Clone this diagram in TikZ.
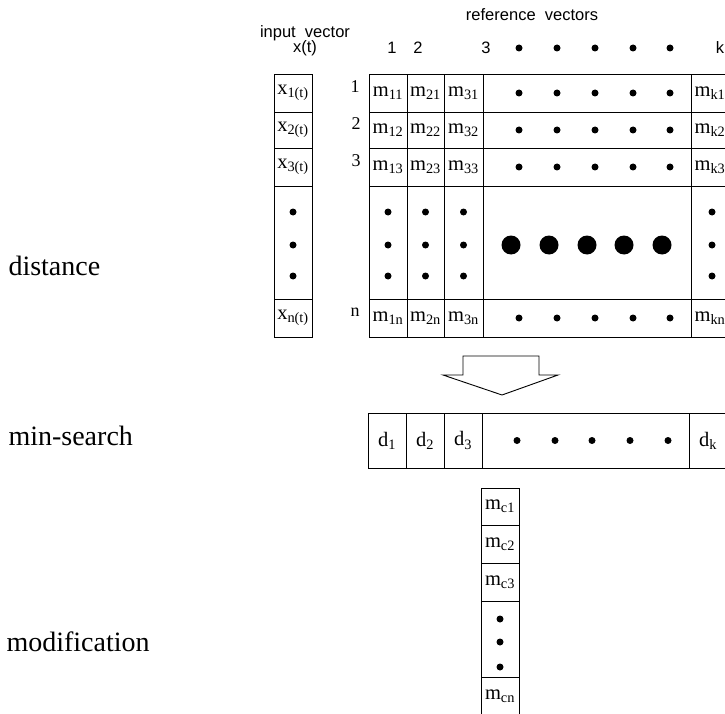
\documentclass[tikz,border=0pt]{standalone}
\usepackage{fontspec}
\setmainfont{Liberation Serif}
\setsansfont{Liberation Sans}
\newcommand{\mc}[2]{m\textsubscript{#1#2}}
\begin{document}
\begin{tikzpicture}[
			x=1pt, y=-1pt,
			cell/.style={draw, line width=0.9pt, inner sep=0pt, minimum width=38pt, minimum height=#1, font=\fontsize{20.5}{20.5}\selectfont},
			cell/.default=38pt,
			dot/.style={circle, fill=black, inner sep=0pt, minimum size=7pt},
			bigdot/.style={dot, minimum size=19pt},
			hdr/.style={font=\sffamily\fontsize{16.5}{16.5}\selectfont},
			idx/.style={font=\fontsize{18}{18}\selectfont},
			stage/.style={anchor=west, font=\fontsize{28}{28}\selectfont}
			]
			\useasboundingbox (0,0) rectangle (725,714);
			\clip (0,0) rectangle (725,714);
			% stage names
			\node[stage] (sdist) at (5,266) {distance};
			\node[stage] (ssearch) at (5,436) {min-search};
			\node[stage] (smod) at (3,642) {modification};
			% headings
			\node[hdr] (refh) at (532,15) {reference\ \ vectors};
			\node[hdr] (inh) at (305,33) {input\ \ vector};
			\node[hdr] (xt) at (305,48) {x(t)};
			\node[hdr] (c1) at (392,48) {1};
			\node[hdr] (c2) at (418,48) {2};
			\node[hdr] (c3) at (486,48) {3};
			\node[hdr] (ck) at (720,48) {k};
			\foreach \dx in {519,557,595,633,670}
				\node[dot] at (\dx,48) {};
			% input vector
			\node[cell] (x1) at (293,93) {x\textsubscript{1(t)}};
			\node[cell=36pt] (x2) at (293,130) {x\textsubscript{2(t)}};
			\node[cell] (x3) at (293,167) {x\textsubscript{3(t)}};
			\node[cell=113pt] (xd) at (293,242.5) {};
			\node[cell] (xn) at (293,318) {x\textsubscript{n(t)}};
			% row numbers
			\node[idx] (r1) at (355,87) {1};
			\node[idx] (r2) at (356,124) {2};
			\node[idx] (r3) at (356,161) {3};
			\node[idx] (rn) at (355,312) {n};
			% reference vectors
			\node[cell] (m11) at (388,93) {\mc11};
			\node[cell, minimum width=37pt] (m21) at (425.5,93) {\mc21};
			\node[cell, minimum width=39pt] (m31) at (463.5,93) {\mc31};
			\node[cell, minimum width=208pt] (md1) at (587,93) {};
			\node[cell] (mk1) at (710,93) {\mc k1};
			\node[cell=36pt] (m12) at (388,130) {\mc12};
			\node[cell=36pt, minimum width=37pt] (m22) at (425.5,130) {\mc22};
			\node[cell=36pt, minimum width=39pt] (m32) at (463.5,130) {\mc32};
			\node[cell=36pt, minimum width=208pt] (md2) at (587,130) {};
			\node[cell=36pt] (mk2) at (710,130) {\mc k2};
			\node[cell] (m13) at (388,167) {\mc13};
			\node[cell, minimum width=37pt] (m23) at (425.5,167) {\mc23};
			\node[cell, minimum width=39pt] (m33) at (463.5,167) {\mc33};
			\node[cell, minimum width=208pt] (md3) at (587,167) {};
			\node[cell] (mk3) at (710,167) {\mc k3};
			\node[cell=113pt] (m1d) at (388,242.5) {};
			\node[cell=113pt, minimum width=37pt] (m2d) at (425.5,242.5) {};
			\node[cell=113pt, minimum width=39pt] (m3d) at (463.5,242.5) {};
			\node[cell=113pt, minimum width=208pt] (mdd) at (587,242.5) {};
			\node[cell=113pt] (mkd) at (710,242.5) {};
			\node[cell] (m1n) at (388,318) {\mc1n};
			\node[cell, minimum width=37pt] (m2n) at (425.5,318) {\mc2n};
			\node[cell, minimum width=39pt] (m3n) at (463.5,318) {\mc3n};
			\node[cell, minimum width=208pt] (mdn) at (587,318) {};
			\node[cell] (mkn) at (710,318) {\mc kn};
			\foreach \dy in {93,130,167,318}
				\foreach \dx in {519,557,595,633,670}
					\node[dot] at (\dx,\dy) {};
			\foreach \dx in {293,388,425.5,463.5,712}
				\foreach \dy in {212,245,276}
					\node[dot] at (\dx,\dy) {};
			\foreach \dx in {511,549,587,624,662}
				\node[bigdot] at (\dx,245) {};
			% block arrow
			\draw[line width=0.9pt] (463,356) -- (539,356) -- (539,375) -- (558,375)
				-- (502,395) -- (443,375) -- (463,375) -- cycle;
			% distances
			\node[cell=55pt] (d1) at (387,440.5) {d\textsubscript{1}};
			\node[cell=55pt] (d2) at (425,440.5) {d\textsubscript{2}};
			\node[cell=55pt] (d3) at (463,440.5) {d\textsubscript{3}};
			\node[cell=55pt, minimum width=207pt] (dd) at (585.5,440.5) {};
			\node[cell=55pt] (dk) at (708,440.5) {d\textsubscript{k}};
			\foreach \dx in {517,555,592,630,668}
				\node[dot] at (\dx,440.5) {};
			% winner vector
			\node[cell=37pt] (mc1) at (500,506.5) {\mc c1};
			\node[cell] (mc2) at (500,544) {\mc c2};
			\node[cell] (mc3) at (500,582) {\mc c3};
			\node[cell=76pt] (mcd) at (500,639) {};
			\node[cell] (mcn) at (500,696) {\mc cn};
			\foreach \dy in {619,642,667}
				\node[dot] at (500,\dy) {};
		\end{tikzpicture}
\end{document}
